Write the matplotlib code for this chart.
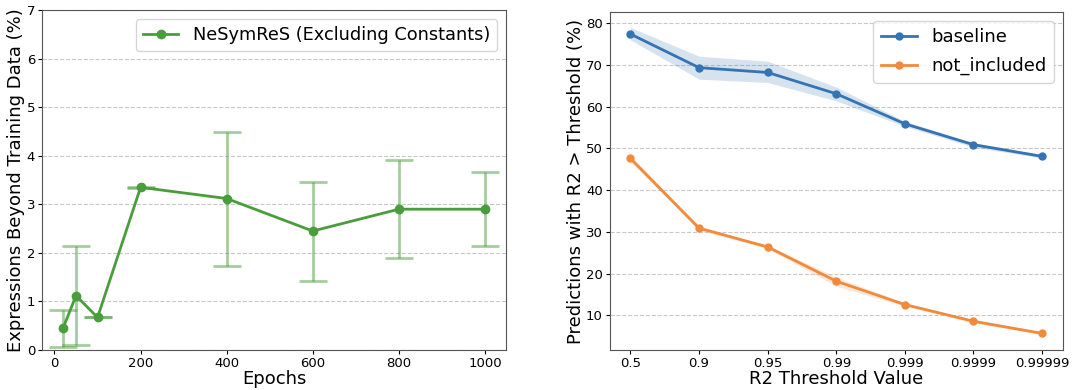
import matplotlib
matplotlib.use("Agg")
import matplotlib.pyplot as plt
import numpy as np

# Left panel data
epochs = [20, 50, 100, 200, 400, 600, 800, 1000]
beyond_mean = [0.45, 1.12, 0.67, 3.35, 3.12, 2.45, 2.90, 2.90]
beyond_err = [0.38, 1.02, 0.0, 0.01, 1.38, 1.02, 1.01, 0.76]

# Right panel data
thresholds = ["0.5", "0.9", "0.95", "0.99", "0.999", "0.9999", "0.99999"]
baseline = [77.4, 69.35, 68.2, 63.1, 55.9, 50.9, 48.1]
baseline_lo = [76.0, 66.6, 65.8, 61.4, 55.3, 50.3, 47.7]
baseline_hi = [79.0, 72.1, 70.9, 64.7, 56.5, 51.4, 48.5]
not_included = [47.6, 30.9, 26.4, 18.2, 12.6, 8.6, 5.7]
not_included_lo = [46.9, 30.4, 26.0, 17.0, 12.2, 8.2, 5.4]
not_included_hi = [48.3, 31.4, 26.8, 19.2, 13.0, 8.9, 6.0]

fig = plt.figure(figsize=(10.91, 3.9), dpi=100)
ax1 = fig.add_axes([0.0385, 0.1026, 0.4253, 0.8714])
ax2 = fig.add_axes([0.559, 0.1026, 0.415, 0.8666])

green = "#4a9d3c"
blue = "#3474b2"
orange = "#f28a3c"

tick_fs = 9.5
label_fs = 13

# Left
ax1.errorbar(epochs, beyond_mean, yerr=beyond_err, fmt="none", ecolor=green,
             alpha=0.5, elinewidth=2, capsize=10, capthick=2)
ax1.plot(epochs, beyond_mean, "-o", color=green, lw=2, ms=6,
         label="NeSymReS (Excluding Constants)")
ax1.set_ylim(0, 7)
ax1.set_xlabel("Epochs", fontsize=label_fs, labelpad=0)
ax1.set_ylabel("Expressions Beyond Training Data (%)", fontsize=label_fs, labelpad=1)
ax1.legend(loc="upper right", fontsize=12.8)

# Right
x = np.arange(len(thresholds))
ax2.fill_between(x, baseline_lo, baseline_hi, color=blue, alpha=0.2, lw=0)
ax2.fill_between(x, not_included_lo, not_included_hi, color=orange, alpha=0.2, lw=0)
ax2.plot(x, baseline, "-o", color=blue, lw=2, ms=5, label="baseline")
ax2.plot(x, not_included, "-o", color=orange, lw=2, ms=5, label="not_included")
ax2.set_xticks(x)
ax2.set_xticklabels(thresholds)
ax2.set_xlabel("R2 Threshold Value", fontsize=label_fs, labelpad=0)
ax2.set_ylabel("Predictions with R2 > Threshold (%)", fontsize=label_fs, labelpad=1)
ax2.legend(loc="upper right", fontsize=13, labelspacing=0.6)

for ax in (ax1, ax2):
    ax.grid(axis="y", linestyle="--", color="#bbbbbb", lw=0.8, alpha=0.8)
    ax.set_axisbelow(True)
    ax.tick_params(labelsize=tick_fs, pad=2, length=3)
    for s in ax.spines.values():
        s.set_color("#555555")

fig.savefig("out.png", dpi=100)
